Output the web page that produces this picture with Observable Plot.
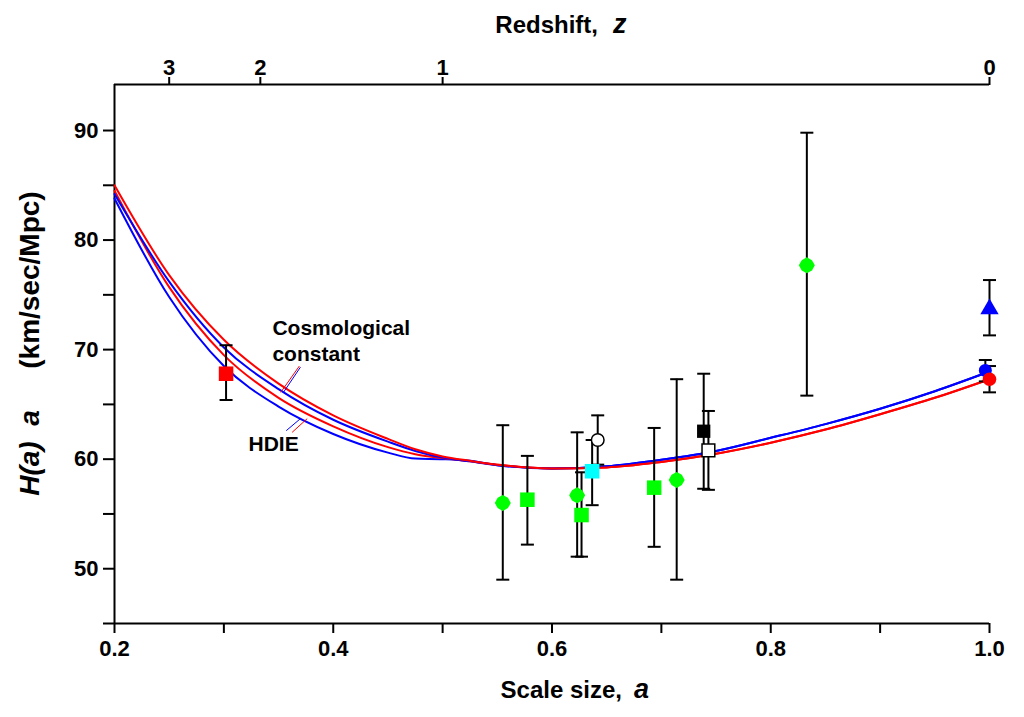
<!DOCTYPE html>
<html>
<head>
<meta charset="utf-8">
<script src="https://cdn.jsdelivr.net/npm/d3@7"></script>
<script src="https://cdn.jsdelivr.net/npm/@observablehq/plot@0.6"></script>
<style>
body { margin: 0; background: #fff; }
</style>
</head>
<body>
<div id="chart"></div>
<script>
// model curves, H(a)*a read along the scale factor a
const curveA   = [0.2, 0.25, 0.3, 0.35, 0.4, 0.45, 0.475, 0.5, 0.525, 0.55, 0.6, 0.65, 0.7, 0.75, 0.8, 0.85, 0.9, 0.95, 1.0]
const ccRed    = [85.0, 76.8, 70.9, 66.9, 64.0, 61.85, 60.9, 60.25, 59.85, 59.5, 59.15, 59.25, 59.75, 60.5, 61.5, 62.7, 64.1, 65.6, 67.3]
const ccBlue   = [84.2, 76.2, 70.2, 66.4, 63.6, 61.6, 60.75, 60.15, 59.8, 59.45, 59.15, 59.35, 59.95, 60.75, 61.95, 63.2, 64.6, 66.2, 68.0]
const hdieRed  = [84.5, 75.7, 69.5, 65.6, 63.0, 61.1, 60.45, 60.1, 59.8, 59.5, 59.15, 59.25, 59.75, 60.5, 61.5, 62.7, 64.1, 65.6, 67.3]
const hdieBlue = [83.8, 74.8, 68.5, 64.8, 62.3, 60.6, 60.05, 60.0, 59.85, 59.45, 59.15, 59.35, 59.95, 60.75, 61.95, 63.2, 64.6, 66.2, 68.0]

// measurements with error bars
const pointA  = [0.302, 0.555, 0.5775, 0.623, 0.627, 0.6367, 0.6418, 0.6934, 0.714, 0.7387, 0.743, 0.833, 1.0, 0.9962, 1.0]
const pointH  = [67.8, 56.0, 56.3, 56.7, 54.9, 58.9, 61.75, 57.4, 58.1, 62.55, 60.8, 77.7, 73.7, 68.1, 67.3]
const pointHi = [70.4, 63.1, 60.3, 62.45, 58.8, 61.75, 64.0, 62.85, 67.3, 67.8, 64.4, 89.8, 76.35, 69.05, 68.5]
const pointLo = [65.4, 49.0, 52.2, 51.1, 51.1, 55.8, 59.5, 52.0, 49.0, 57.3, 57.2, 65.8, 71.3, 67.1, 66.1]
const pointKind = ["red square", "green diamond", "green square", "green diamond", "green square",
  "cyan square", "open circle", "green square", "green diamond", "black square", "open square",
  "green diamond", "blue triangle", "blue circle", "red circle"]

// axes
const xDomain = [0.2, 1.0]
const yDomain = [45, 94.2]
const xTicks = [0.2, 0.3, 0.4, 0.5, 0.6, 0.7, 0.8, 0.9, 1.0]
const xTickLabels = ["0.2", "", "0.4", "", "0.6", "", "0.8", "", "1.0"]
const yTicks = [45, 50, 55, 60, 65, 70, 75, 80, 85, 90]
const yTickLabels = ["", "50", "", "60", "", "70", "", "80", "", "90"]
const zTicks = [3, 2, 1, 0]
const zTickLabels = ["3", "2", "1", "0"]

// annotations
const noteText = ["Cosmological\nconstant", "HDIE"]
const noteA = [0.3444, 0.3225]
const noteH = [70.9, 61.5]
const leaderA1 = [0.369, 0.370, 0.3762, 0.370]
const leaderH1 = [68.5, 68.4, 63.7, 63.7]
const leaderA2 = [0.352, 0.3545, 0.3624, 0.357]
const leaderH2 = [66.1, 66.1, 62.45, 62.6]

const points = pointA.map((a, i) => ({a, h: pointH[i], hi: pointHi[i], lo: pointLo[i], kind: pointKind[i]}))
const zA = zTicks.map(z => 1 / (1 + z))

const cap = {draw(ctx) { ctx.moveTo(-6.5, 0); ctx.lineTo(6.5, 0) }}
const roundDiamond = {draw(ctx) {
  const R = 8, k = 0.64 * R
  ctx.moveTo(R, 0); ctx.lineTo(k, k); ctx.lineTo(0, R); ctx.lineTo(-k, k)
  ctx.lineTo(-R, 0); ctx.lineTo(-k, -k); ctx.lineTo(0, -R); ctx.lineTo(k, -k)
  ctx.closePath()
}}

const kindStyle = {
  "red square":    {symbol: "square", r: 8.2, fill: "#ff0000"},
  "green diamond": {symbol: roundDiamond, r: 7, fill: "#00ff00"},
  "green square":  {symbol: "square", r: 8.2, fill: "#00ff00"},
  "cyan square":   {symbol: "square", r: 8.2, fill: "#00ffff"},
  "open circle":   {symbol: "circle", r: 6.3, fill: "#fff", stroke: "#000", strokeWidth: 1.5},
  "black square":  {symbol: "square", r: 7.5, fill: "#000"},
  "open square":   {symbol: "square", r: 7.2, fill: "#fff", stroke: "#000", strokeWidth: 1.5},
  "blue triangle": {symbol: "triangle", r: 6.8, fill: "#0000ff"},
  "blue circle":   {symbol: "circle", r: 6.5, fill: "#0000ff"},
  "red circle":    {symbol: "circle", r: 6.8, fill: "#ff0000"}
}

const curves = [
  {y: hdieBlue, stroke: "#0000ff"},
  {y: hdieRed, stroke: "#ff0000"},
  {y: ccBlue, stroke: "#0000ff"},
  {y: ccRed, stroke: "#ff0000"}
]

let marks = []

// frame lines: left, bottom, top
marks.push(Plot.ruleX([xDomain[0]], {stroke: "#000", strokeWidth: 2}))
marks.push(Plot.ruleY([yDomain[0]], {stroke: "#000", strokeWidth: 2}))
marks.push(Plot.ruleY([yDomain[1]], {stroke: "#000", strokeWidth: 2}))

marks.push(Plot.axisX(xTicks, {anchor: "bottom", tickSize: 10, tickPadding: 7, strokeWidth: 2,
  fontSize: 22, fontWeight: "bold", label: null, tickFormat: d => xTickLabels[xTicks.indexOf(d)]}))
marks.push(Plot.axisY(yTicks, {anchor: "left", tickSize: 11, tickPadding: 5, strokeWidth: 2,
  fontSize: 22, fontWeight: "bold", label: null, tickFormat: d => yTickLabels[yTicks.indexOf(d)]}))
marks.push(Plot.axisX(zA, {anchor: "top", tickSize: 8, tickPadding: 2, strokeWidth: 2,
  fontSize: 22, fontWeight: "bold", label: null, tickFormat: d => zTickLabels[zA.indexOf(d)]}))

curves.forEach(c => {
  marks.push(Plot.line(curveA, {x: d => d, y: (d, i) => c.y[i], stroke: c.stroke, strokeWidth: 2, curve: "monotone-x"}))
})

// leader lines and labels
marks.push(Plot.link(leaderA1, {x1: d => d, y1: (d, i) => leaderH1[i], x2: (d, i) => leaderA2[i], y2: (d, i) => leaderH2[i],
  stroke: (d, i) => i % 2 ? "#0000ff" : "#ff0000", strokeWidth: 1}))
marks.push(Plot.text(noteText, {x: (d, i) => noteA[i], y: (d, i) => noteH[i], text: d => d,
  textAnchor: "start", lineAnchor: "middle", lineHeight: 1.22, fontSize: 21, fontWeight: "bold", fill: "#000"}))

// error bars
marks.push(Plot.ruleX(points, {x: "a", y1: "lo", y2: "hi", stroke: "#000", strokeWidth: 2}))
marks.push(Plot.dot(points, {x: "a", y: "hi", symbol: cap, fill: "none", stroke: "#000", strokeWidth: 2}))
marks.push(Plot.dot(points, {x: "a", y: "lo", symbol: cap, fill: "none", stroke: "#000", strokeWidth: 2}))

// markers
const kinds = [...new Set(pointKind)]
kinds.forEach(k => {
  marks.push(Plot.dot(points.filter(d => d.kind === k), {x: "a", y: "h", ...kindStyle[k]}))
})

// titles
marks.push(Plot.text(["Redshift,"], {frameAnchor: "top", text: d => d, textAnchor: "end", lineAnchor: "middle",
  dx: 46, dy: -59, fontSize: 24, fontWeight: "bold"}))
marks.push(Plot.text(["z"], {frameAnchor: "top", text: d => d, textAnchor: "start", lineAnchor: "middle",
  dx: 61, dy: -60, fontSize: 27, fontWeight: "bold", fontStyle: "italic"}))
marks.push(Plot.text(["Scale size,"], {frameAnchor: "bottom", text: d => d, textAnchor: "end", lineAnchor: "middle",
  dx: 70, dy: 67, fontSize: 24, fontWeight: "bold"}))
marks.push(Plot.text(["a"], {frameAnchor: "bottom", text: d => d, textAnchor: "start", lineAnchor: "middle",
  dx: 82, dy: 66, fontSize: 27, fontWeight: "bold", fontStyle: "italic"}))
marks.push(Plot.text(["(km/sec/Mpc)"], {frameAnchor: "left", text: d => d, rotate: -90, textAnchor: "middle", lineAnchor: "middle",
  dx: -84, dy: -74, fontSize: 28, fontWeight: "bold"}))
marks.push(Plot.text(["H(a)  a"], {frameAnchor: "left", text: d => d, rotate: -90, textAnchor: "middle", lineAnchor: "middle",
  dx: -84, dy: 99, fontSize: 28, fontWeight: "bold", fontStyle: "italic"}))

const chart = Plot.plot({
  width: 1024,
  height: 717,
  marginLeft: 114,
  marginRight: 35,
  marginTop: 84,
  marginBottom: 94,
  style: {fontFamily: "'Liberation Sans', Arial, sans-serif", fontSize: "22px", fontWeight: "bold", color: "#000", background: "#fff"},
  x: {domain: xDomain, label: null},
  y: {domain: yDomain, label: null},
  marks: marks
})

document.getElementById("chart").append(chart)
</script>
</body>
</html>
